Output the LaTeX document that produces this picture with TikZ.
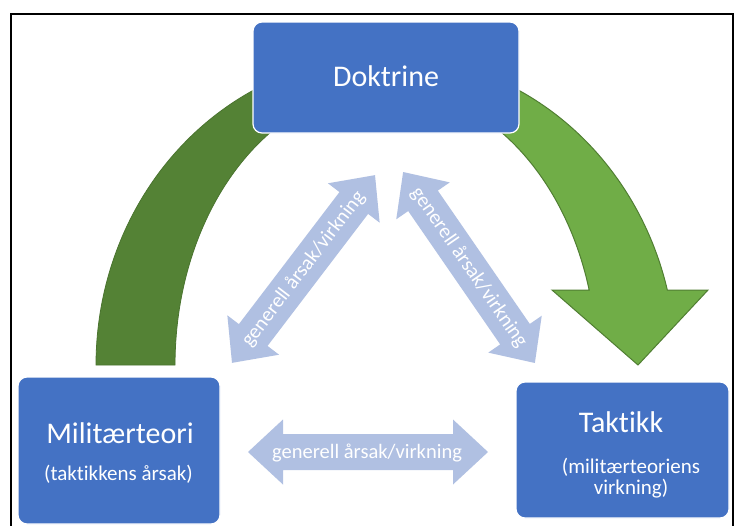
\documentclass[tikz,border=0pt]{standalone}
\usepackage{fontspec}
\setmainfont{Carlito}[Ligatures=NoCommon]
\definecolor{boxblue}{HTML}{4472C4}
\definecolor{darkgreen}{HTML}{548235}
\definecolor{darkgreenline}{HTML}{4A742F}
\definecolor{lightgreen}{HTML}{70AD47}
\definecolor{greenline}{HTML}{507E32}
\definecolor{paleblue}{HTML}{B0C0E2}
\newcommand\mydblarrow[4]{%
  \begin{scope}[shift={(#1,#2)}, rotate=#3]
    \fill[paleblue] ({-#4/2},0) -- ({-#4/2+35},32.5) -- ({-#4/2+35},18) -- ({#4/2-35},18) -- ({#4/2-35},32.5) -- ({#4/2},0) -- ({#4/2-35},-32.5) -- ({#4/2-35},-18) -- ({-#4/2+35},-18) -- ({-#4/2+35},-32.5) -- cycle;
  \end{scope}}
\tikzset{
  bluebox/.style={rectangle, rounded corners=9pt, fill=boxblue, draw=white, line width=1.2pt, inner sep=0pt},
  titletext/.style={text=white, font=\fontsize{30}{36}\selectfont, inner sep=0pt, anchor=base},
  subtext/.style={text=white, font=\fontsize{21}{25}\selectfont, inner sep=0pt, anchor=base},
  arrowtext/.style={text=white, font=\fontsize{20.5}{24}\selectfont, inner sep=0pt}
}
\begin{document}
\begin{tikzpicture}[x=1pt,y=-1pt]
\useasboundingbox (0,0) rectangle (735,525);
\clip (0,0) rectangle (735,525);
\fill[white] (0,0) rectangle (735,525);
\draw[line width=2pt] (11,540) -- (11,14) -- (733,14) -- (733,540);

% green curved shapes
\filldraw[fill=darkgreen, draw=darkgreenline, line width=0.8pt]
  plot[domain=116:180, samples=60] ({386+290*cos(\x)},{365-309*sin(\x)})
  -- plot[domain=180:116, samples=60] ({386+211*cos(\x)},{365-278*sin(\x)}) -- cycle;
\filldraw[fill=lightgreen, draw=greenline, line width=1pt]
  plot[domain=64:14.05, samples=60] ({386+290*cos(\x)},{365-309*sin(\x)})
  -- (708,290) -- (638,365) -- (552,290)
  -- plot[domain=15.65:64, samples=60] ({386+211*cos(\x)},{365-278*sin(\x)}) -- cycle;

% boxes
\node[bluebox, minimum width=266pt, minimum height=111pt] (dok) at (386,77.5) {};
\node[bluebox, minimum width=202pt, minimum height=147pt] (mil) at (119,450.5) {};
\node[bluebox, minimum width=213pt, minimum height=136pt] (tak) at (622.5,450) {};

\node[titletext] (dokt) at (386,86) {Doktrine};
\node[titletext] (milt) at (120,443) {Militærteori};
\node[subtext] (mils) at (118.5,480) {(taktikkens årsak)};
\node[titletext] (takt) at (621,432) {Taktikk};
\node[subtext] (taks1) at (631,473) {(militærteoriens};
\node[subtext] (taks2) at (631,494) {virkning)};

% double arrows
\mydblarrow{303.5}{269}{52.7}{236}
\mydblarrow{469}{267.5}{-55.4}{232}
\mydblarrow{368}{452}{0}{240}
\node[arrowtext, rotate=52.7] (a1) at (303.5,269) {generell årsak/virkning};
\node[arrowtext, rotate=-55.4] (a2) at (469,267.5) {generell årsak/virkning};
\node[arrowtext] (a3) at (367,453) {generell årsak/virkning};
\end{tikzpicture}
\end{document}
